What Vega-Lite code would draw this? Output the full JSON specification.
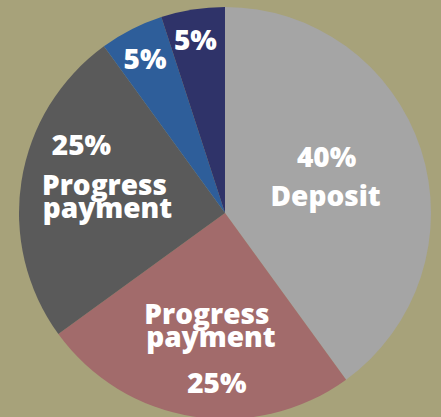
{
  "$schema": "https://vega.github.io/schema/vega-lite/v6.json",
  "width": 441,
  "height": 417,
  "autosize": {"type": "fit", "contains": "padding"},
  "padding": {"left": 19, "right": 10, "top": 9, "bottom": 0},
  "background": "#A7A27A",
  "view": {"stroke": null},
  "config": {"text": {"fontSize": 28, "fontWeight": 800, "font": "Open Sans", "fill": "white", "align": "center", "baseline": "alphabetic"}},
  "data": {
    "values": [
      {"slice": "Deposit", "value": 40, "order": 1, "pct": "40%", "name": "Deposit"},
      {"slice": "Progress A", "value": 25, "order": 2, "pct": "25%", "name": "Progress payment"},
      {"slice": "Progress B", "value": 25, "order": 3, "pct": "25%", "name": "Progress payment"},
      {"slice": "Retention A", "value": 5, "order": 4, "pct": "5%", "name": ""},
      {"slice": "Retention B", "value": 5, "order": 5, "pct": "5%", "name": ""}
    ]
  },
  "encoding": {
    "theta": {"field": "value", "type": "quantitative", "stack": true},
    "order": {"field": "order", "type": "quantitative"}
  },
  "layer": [
    {
      "mark": {"type": "arc", "outerRadius": 206},
      "encoding": {
        "color": {
          "field": "slice", "type": "nominal", "legend": null,
          "scale": {
            "domain": ["Deposit", "Progress A", "Progress B", "Retention A", "Retention B"],
            "range": ["#A5A5A5", "#A26B6B", "#5A5A5A", "#2E5E9A", "#2F3369"]
          }
        }
      }
    },
    {
      "mark": {"type": "text", "radius": 110, "dx": -3, "dy": -12},
      "encoding": {"text": {"condition": {"test": "datum.slice === 'Deposit'", "field": "pct"}, "value": ""}}
    },
    {
      "mark": {"type": "text", "radius": 110, "dx": -4, "dy": 27},
      "encoding": {"text": {"condition": {"test": "datum.slice === 'Deposit'", "value": "Deposit"}, "value": ""}}
    },
    {
      "mark": {"type": "text", "radius": 135, "dx": 3, "dy": -22},
      "encoding": {"text": {"condition": {"test": "datum.slice === 'Progress A'", "value": "Progress"}, "value": ""}}
    },
    {
      "mark": {"type": "text", "radius": 135, "dx": 7, "dy": 1},
      "encoding": {"text": {"condition": {"test": "datum.slice === 'Progress A'", "value": "payment"}, "value": ""}}
    },
    {
      "mark": {"type": "text", "radius": 135, "dx": 13, "dy": 47},
      "encoding": {"text": {"condition": {"test": "datum.slice === 'Progress A'", "field": "pct"}, "value": ""}}
    },
    {
      "mark": {"type": "text", "radius": 120, "dx": -25, "dy": -39},
      "encoding": {"text": {"condition": {"test": "datum.slice === 'Progress B'", "field": "pct"}, "value": ""}}
    },
    {
      "mark": {"type": "text", "radius": 120, "dx": -2, "dy": 1},
      "encoding": {"text": {"condition": {"test": "datum.slice === 'Progress B'", "value": "Progress"}, "value": ""}}
    },
    {
      "mark": {"type": "text", "radius": 120, "dx": 1, "dy": 24},
      "encoding": {"text": {"condition": {"test": "datum.slice === 'Progress B'", "value": "payment"}, "value": ""}}
    },
    {
      "mark": {"type": "text", "radius": 165, "dx": -5, "dy": 3},
      "encoding": {"text": {"condition": {"test": "datum.slice === 'Retention A'", "field": "pct"}, "value": ""}}
    },
    {
      "mark": {"type": "text", "radius": 170, "dx": -3, "dy": 5},
      "encoding": {"text": {"condition": {"test": "datum.slice === 'Retention B'", "field": "pct"}, "value": ""}}
    }
  ]
}
